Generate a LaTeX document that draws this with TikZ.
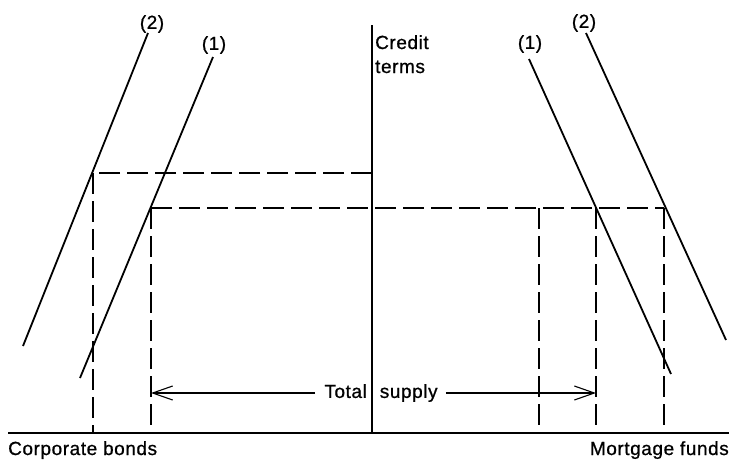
\documentclass[tikz,border=0pt]{standalone}
\usepackage{fontspec}
\setmainfont{Liberation Sans}[LetterSpace=3,FakeBold=0.8]
\usetikzlibrary{arrows.meta}
\begin{document}
\begin{tikzpicture}[x=1pt,y=-1pt,
  curve/.style={line width=1.8pt},
  axis/.style={line width=1.4pt},
  guide/.style={line width=1.3pt,dash pattern=on 21pt off 7pt},
  lbl/.style={font=\fontsize{19}{24}\selectfont,inner sep=0pt},
  supplyarrow/.style={line width=1.1pt,-{Straight Barb[length=20pt,width=14pt,line width=1.1pt]}}]
\useasboundingbox (0,0) rectangle (736,461);
% axes
\coordinate (xl) at (8,433);
\coordinate (xr) at (729,433);
\coordinate (yt) at (372,25);
\coordinate (yb) at (372,433);
\draw[axis] (xl) -- (xr);
\draw[axis] (yt) -- (yb);
% curves
\coordinate (L2t) at (148,33); \coordinate (L2b) at (23,346);
\coordinate (L1t) at (213,57); \coordinate (L1b) at (80,378);
\coordinate (R1t) at (529,59); \coordinate (R1b) at (671,374);
\coordinate (R2t) at (586,33); \coordinate (R2b) at (726,340);
\draw[curve] (L2t) -- (L2b);
\draw[curve] (L1t) -- (L1b);
\draw[curve] (R1t) -- (R1b);
\draw[curve] (R2t) -- (R2b);
% guide points
\coordinate (a) at (93,173); \coordinate (ab) at (93,433);
\coordinate (ay) at (372,173);
\coordinate (b) at (151,208); \coordinate (bb) at (151,433);
\coordinate (c) at (539,208); \coordinate (cb) at (539,433);
\coordinate (d) at (596,208); \coordinate (db) at (596,433);
\coordinate (e) at (664,208); \coordinate (eb) at (664,433);
\draw[guide] (ay) -- (a);
\draw[guide] (a) -- (ab);
\draw[guide] (b) -- (e);
\draw[guide] (b) -- (bb);
\draw[guide] (c) -- (cb);
\draw[guide] (d) -- (db);
\draw[guide] (e) -- (eb);
% labels
\node[lbl] (l2) at (152,24) {(2)};
\node[lbl] (l1) at (214,45) {(1)};
\node[lbl] (r1) at (530,44) {(1)};
\node[lbl] (r2) at (584,23) {(2)};
\node[lbl,anchor=base west,align=left] (ct) at (375,73) {Credit\\terms};
\node[lbl,anchor=base west] (cb) at (8,455) {Corporate bonds};
\node[lbl,anchor=base east] (mf) at (729,455) {Mortgage funds};
% total supply
\node[lbl] (ts) at (381,393) {Total\hspace{13pt}supply};
\coordinate (sl) at (151,393);
\coordinate (sr) at (596,393);
\draw[supplyarrow] ([xshift=-9pt]ts.west) -- (sl);
\draw[supplyarrow] ([xshift=8pt]ts.east) -- (sr);
\end{tikzpicture}
\end{document}
